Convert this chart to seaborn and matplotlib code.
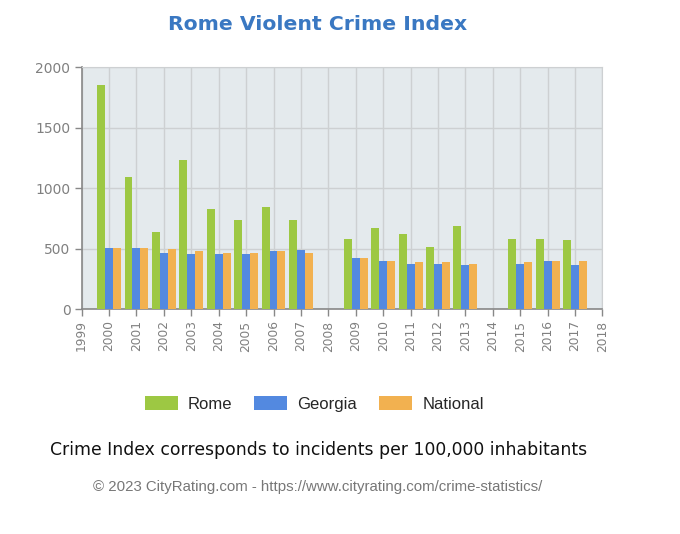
import matplotlib
matplotlib.use("Agg")
import matplotlib.pyplot as plt
import seaborn as sns
import pandas as pd
from matplotlib.patches import Patch

years = [2000, 2001, 2002, 2003, 2004, 2005, 2006, 2007,
         2009, 2010, 2011, 2012, 2013, 2015, 2016, 2017]
rome = [1848, 1090, 636, 1230, 828, 737, 842, 737,
        583, 673, 621, 517, 685, 583, 583, 569]
georgia = [506, 506, 467, 454, 454, 454, 478, 492,
           426, 401, 376, 376, 363, 376, 401, 363]
national = [506, 506, 495, 478, 464, 464, 478, 464,
            426, 401, 387, 387, 374, 387, 401, 401]
series_names = ["Rome", "Georgia", "National"]
colors = ["#9dc843", "#5389e0", "#f2b150"]
tick_years = list(range(1999, 2019))

df = pd.DataFrame({
    "year": years * 3,
    "value": rome + georgia + national,
    "series": [series_names[0]] * len(years) + [series_names[1]] * len(years) + [series_names[2]] * len(years),
})

sns.set_style("white")
plt.rcParams["font.family"] = ["DejaVu Sans"]

fig = plt.figure(figsize=(6.8, 5.34), dpi=100)
ax = fig.add_axes([0.120, 0.4208, 0.766, 0.4537])
ax.set_facecolor("#e4eaed")

sns.barplot(data=df, x="year", y="value", hue="series", native_scale=True,
            palette=colors, hue_order=series_names, width=0.87, gap=0,
            linewidth=0, saturation=1, legend=False, ax=ax, zorder=3)

ax.set_xlim(1999, 2018)
ax.set_ylim(0, 2000)
ax.set_xticks(tick_years)
ax.set_xticklabels([str(y) for y in tick_years], rotation=90, fontsize=8.8, color="#808080")
ax.set_yticks([0, 500, 1000, 1500, 2000])
ax.set_yticklabels(["0", "500", "1000", "1500", "2000"], fontsize=10, color="#808080")
ax.grid(True, color="#cdd0d2", linewidth=1, zorder=0)
ax.set_axisbelow(True)
ax.set_xlabel("")
ax.set_ylabel("")
for s in ["top", "right"]:
    ax.spines[s].set_color("#cdd0d2")
for s in ["left", "bottom"]:
    ax.spines[s].set_color("#888888")
    ax.spines[s].set_linewidth(1.2)
ax.tick_params(axis="both", which="both", length=5, width=1, color="#888888", direction="out", pad=3,
               bottom=True, left=True)

fig.text(0.467, 0.955, "Rome Violent Crime Index", ha="center", va="center",
         fontsize=14.7, fontweight="bold", color="#3a78c2")

handles = [Patch(facecolor=c, edgecolor="none", label=n) for c, n in zip(colors, series_names)]
fig.legend(handles=handles, loc="center", bbox_to_anchor=(0.462, 0.243), ncol=3, frameon=False,
           prop={"family": "Liberation Sans", "size": 12}, handlelength=2.0, handleheight=0.9,
           columnspacing=1.3, handletextpad=0.6)

fig.text(0.468, 0.157, "Crime Index corresponds to incidents per 100,000 inhabitants",
         ha="center", va="center", fontsize=12.4, color="#111111")
fig.text(0.467, 0.088, "\u00a9 2023 CityRating.com - https://www.cityrating.com/crime-statistics/",
         ha="center", va="center", fontsize=10.8, color="#777777", family="Liberation Sans")

fig.savefig("out.png", dpi=100, facecolor="white")
